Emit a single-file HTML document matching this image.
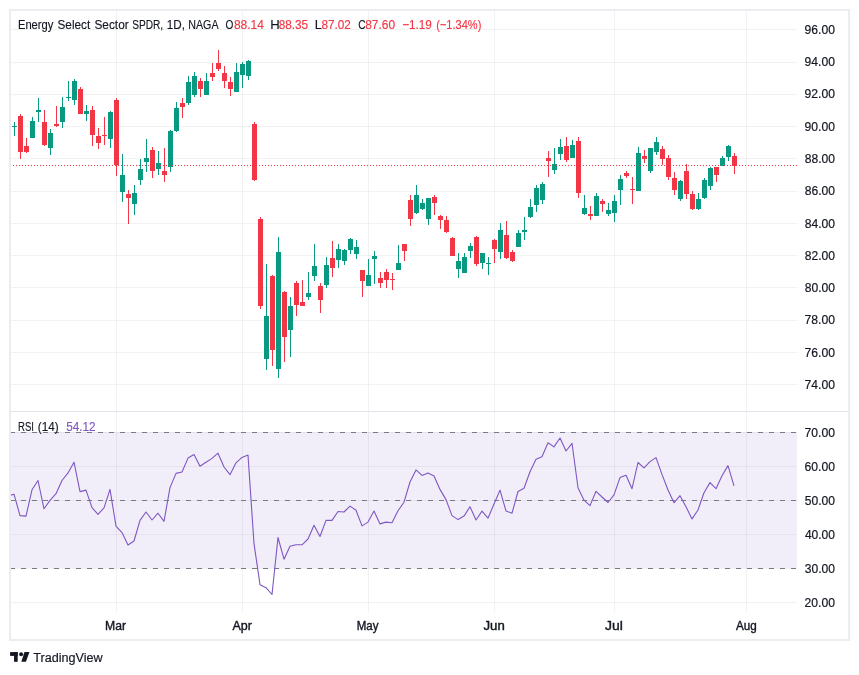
<!DOCTYPE html>
<html><head><meta charset="utf-8"><title>XLE chart</title>
<style>html,body{margin:0;padding:0;background:#fff;}body{width:859px;height:675px;position:relative;overflow:hidden;font-family:"Liberation Sans", sans-serif;}</style>
</head><body>
<svg width="859" height="675" viewBox="0 0 859 675" style="position:absolute;left:0;top:0">
<rect x="0" y="0" width="859" height="675" fill="#fff"/>
<defs><clipPath id="cp"><rect x="11" y="11" width="786" height="400"/></clipPath><clipPath id="cr"><rect x="11" y="412" width="786" height="200"/></clipPath></defs>
<rect x="116" y="11" width="1" height="601" fill="rgba(20,40,30,0.058)"/>
<rect x="242" y="11" width="1" height="601" fill="rgba(20,40,30,0.058)"/>
<rect x="368" y="11" width="1" height="601" fill="rgba(20,40,30,0.058)"/>
<rect x="494" y="11" width="1" height="601" fill="rgba(20,40,30,0.058)"/>
<rect x="614" y="11" width="1" height="601" fill="rgba(20,40,30,0.058)"/>
<rect x="746" y="11" width="1" height="601" fill="rgba(20,40,30,0.058)"/>
<rect x="11" y="29" width="786" height="1" fill="rgba(20,40,30,0.058)"/>
<rect x="11" y="62" width="786" height="1" fill="rgba(20,40,30,0.058)"/>
<rect x="11" y="94" width="786" height="1" fill="rgba(20,40,30,0.058)"/>
<rect x="11" y="126" width="786" height="1" fill="rgba(20,40,30,0.058)"/>
<rect x="11" y="158" width="786" height="1" fill="rgba(20,40,30,0.058)"/>
<rect x="11" y="191" width="786" height="1" fill="rgba(20,40,30,0.058)"/>
<rect x="11" y="223" width="786" height="1" fill="rgba(20,40,30,0.058)"/>
<rect x="11" y="255" width="786" height="1" fill="rgba(20,40,30,0.058)"/>
<rect x="11" y="287" width="786" height="1" fill="rgba(20,40,30,0.058)"/>
<rect x="11" y="320" width="786" height="1" fill="rgba(20,40,30,0.058)"/>
<rect x="11" y="352" width="786" height="1" fill="rgba(20,40,30,0.058)"/>
<rect x="11" y="384" width="786" height="1" fill="rgba(20,40,30,0.058)"/>
<rect x="11" y="432" width="786" height="1" fill="rgba(20,40,30,0.058)"/>
<rect x="11" y="466" width="786" height="1" fill="rgba(20,40,30,0.058)"/>
<rect x="11" y="500" width="786" height="1" fill="rgba(20,40,30,0.058)"/>
<rect x="11" y="534" width="786" height="1" fill="rgba(20,40,30,0.058)"/>
<rect x="11" y="568" width="786" height="1" fill="rgba(20,40,30,0.058)"/>
<rect x="11" y="602" width="786" height="1" fill="rgba(20,40,30,0.058)"/>
<rect x="11" y="432" width="786" height="136" fill="rgba(126,87,194,0.1)"/>
<line x1="10" y1="432.5" x2="797" y2="432.5" stroke="#787b86" stroke-width="1" stroke-dasharray="5 6"/>
<line x1="10" y1="500.5" x2="797" y2="500.5" stroke="#787b86" stroke-width="1" stroke-dasharray="5 6"/>
<line x1="10" y1="568.5" x2="797" y2="568.5" stroke="#787b86" stroke-width="1" stroke-dasharray="5 6"/>
<rect x="11" y="411" width="837" height="1" fill="#e3e5ec"/>
<g clip-path="url(#cp)" shape-rendering="crispEdges">
<rect x="14" y="122" width="1" height="14" fill="#089981"/>
<rect x="12" y="126" width="5" height="1" fill="#089981"/>
<rect x="20" y="114" width="1" height="45" fill="#f23645"/>
<rect x="18" y="116" width="5" height="36" fill="#f23645"/>
<rect x="26" y="138" width="1" height="15" fill="#f23645"/>
<rect x="24" y="146" width="5" height="6" fill="#f23645"/>
<rect x="32" y="117" width="1" height="21" fill="#089981"/>
<rect x="30" y="121" width="5" height="17" fill="#089981"/>
<rect x="38" y="98" width="1" height="24" fill="#089981"/>
<rect x="36" y="110" width="5" height="2" fill="#089981"/>
<rect x="44" y="110" width="1" height="36" fill="#f23645"/>
<rect x="42" y="122" width="5" height="23" fill="#f23645"/>
<rect x="50" y="129" width="1" height="26" fill="#089981"/>
<rect x="48" y="133" width="5" height="15" fill="#089981"/>
<rect x="56" y="106" width="1" height="21" fill="#f23645"/>
<rect x="54" y="124" width="5" height="2" fill="#f23645"/>
<rect x="62" y="97" width="1" height="31" fill="#089981"/>
<rect x="60" y="107" width="5" height="15" fill="#089981"/>
<rect x="68" y="81" width="1" height="20" fill="#089981"/>
<rect x="66" y="97" width="5" height="1" fill="#089981"/>
<rect x="74" y="79" width="1" height="26" fill="#089981"/>
<rect x="72" y="81" width="5" height="19" fill="#089981"/>
<rect x="80" y="87" width="1" height="27" fill="#f23645"/>
<rect x="78" y="89" width="5" height="25" fill="#f23645"/>
<rect x="86" y="105" width="1" height="16" fill="#089981"/>
<rect x="84" y="111" width="5" height="3" fill="#089981"/>
<rect x="92" y="106" width="1" height="40" fill="#f23645"/>
<rect x="90" y="110" width="5" height="25" fill="#f23645"/>
<rect x="98" y="128" width="1" height="21" fill="#f23645"/>
<rect x="96" y="136" width="5" height="7" fill="#f23645"/>
<rect x="104" y="117" width="1" height="28" fill="#f23645"/>
<rect x="102" y="135" width="5" height="1" fill="#f23645"/>
<rect x="110" y="111" width="1" height="37" fill="#089981"/>
<rect x="108" y="112" width="5" height="27" fill="#089981"/>
<rect x="116" y="98" width="1" height="78" fill="#f23645"/>
<rect x="114" y="100" width="5" height="65" fill="#f23645"/>
<rect x="122" y="154" width="1" height="48" fill="#089981"/>
<rect x="120" y="175" width="5" height="17" fill="#089981"/>
<rect x="128" y="190" width="1" height="34" fill="#f23645"/>
<rect x="126" y="194" width="5" height="4" fill="#f23645"/>
<rect x="134" y="185" width="1" height="30" fill="#089981"/>
<rect x="132" y="193" width="5" height="11" fill="#089981"/>
<rect x="140" y="159" width="1" height="26" fill="#089981"/>
<rect x="138" y="169" width="5" height="11" fill="#089981"/>
<rect x="146" y="139" width="1" height="33" fill="#089981"/>
<rect x="144" y="158" width="5" height="4" fill="#089981"/>
<rect x="152" y="147" width="1" height="31" fill="#f23645"/>
<rect x="150" y="150" width="5" height="21" fill="#f23645"/>
<rect x="158" y="151" width="1" height="24" fill="#089981"/>
<rect x="156" y="163" width="5" height="6" fill="#089981"/>
<rect x="164" y="148" width="1" height="34" fill="#f23645"/>
<rect x="162" y="171" width="5" height="4" fill="#f23645"/>
<rect x="170" y="130" width="1" height="42" fill="#089981"/>
<rect x="168" y="131" width="5" height="36" fill="#089981"/>
<rect x="176" y="102" width="1" height="30" fill="#089981"/>
<rect x="174" y="108" width="5" height="23" fill="#089981"/>
<rect x="182" y="98" width="1" height="20" fill="#f23645"/>
<rect x="180" y="103" width="5" height="4" fill="#f23645"/>
<rect x="188" y="76" width="1" height="29" fill="#089981"/>
<rect x="186" y="82" width="5" height="21" fill="#089981"/>
<rect x="194" y="72" width="1" height="25" fill="#089981"/>
<rect x="192" y="76" width="5" height="19" fill="#089981"/>
<rect x="200" y="78" width="1" height="19" fill="#f23645"/>
<rect x="198" y="81" width="5" height="8" fill="#f23645"/>
<rect x="206" y="73" width="1" height="22" fill="#089981"/>
<rect x="204" y="81" width="5" height="14" fill="#089981"/>
<rect x="212" y="63" width="1" height="18" fill="#f23645"/>
<rect x="210" y="73" width="5" height="4" fill="#f23645"/>
<rect x="218" y="50" width="1" height="21" fill="#f23645"/>
<rect x="216" y="63" width="5" height="6" fill="#f23645"/>
<rect x="224" y="66" width="1" height="22" fill="#f23645"/>
<rect x="222" y="73" width="5" height="8" fill="#f23645"/>
<rect x="230" y="77" width="1" height="19" fill="#f23645"/>
<rect x="228" y="82" width="5" height="7" fill="#f23645"/>
<rect x="236" y="63" width="1" height="29" fill="#089981"/>
<rect x="234" y="72" width="5" height="20" fill="#089981"/>
<rect x="242" y="62" width="1" height="26" fill="#089981"/>
<rect x="240" y="64" width="5" height="11" fill="#089981"/>
<rect x="248" y="60" width="1" height="20" fill="#089981"/>
<rect x="246" y="61" width="5" height="15" fill="#089981"/>
<rect x="254" y="122" width="1" height="59" fill="#f23645"/>
<rect x="252" y="124" width="5" height="56" fill="#f23645"/>
<rect x="260" y="217" width="1" height="92" fill="#f23645"/>
<rect x="258" y="219" width="5" height="87" fill="#f23645"/>
<rect x="266" y="264" width="1" height="106" fill="#089981"/>
<rect x="264" y="316" width="5" height="43" fill="#089981"/>
<rect x="272" y="275" width="1" height="91" fill="#f23645"/>
<rect x="270" y="276" width="5" height="74" fill="#f23645"/>
<rect x="278" y="237" width="1" height="141" fill="#089981"/>
<rect x="276" y="252" width="5" height="117" fill="#089981"/>
<rect x="284" y="291" width="1" height="71" fill="#f23645"/>
<rect x="282" y="292" width="5" height="45" fill="#f23645"/>
<rect x="290" y="297" width="1" height="60" fill="#089981"/>
<rect x="288" y="306" width="5" height="24" fill="#089981"/>
<rect x="296" y="281" width="1" height="35" fill="#f23645"/>
<rect x="294" y="283" width="5" height="22" fill="#f23645"/>
<rect x="302" y="280" width="1" height="26" fill="#f23645"/>
<rect x="300" y="302" width="5" height="4" fill="#f23645"/>
<rect x="308" y="272" width="1" height="28" fill="#089981"/>
<rect x="306" y="293" width="5" height="4" fill="#089981"/>
<rect x="314" y="244" width="1" height="37" fill="#089981"/>
<rect x="312" y="266" width="5" height="10" fill="#089981"/>
<rect x="320" y="283" width="1" height="30" fill="#f23645"/>
<rect x="318" y="286" width="5" height="14" fill="#f23645"/>
<rect x="326" y="257" width="1" height="31" fill="#089981"/>
<rect x="324" y="265" width="5" height="20" fill="#089981"/>
<rect x="332" y="241" width="1" height="36" fill="#f23645"/>
<rect x="330" y="258" width="5" height="10" fill="#f23645"/>
<rect x="338" y="244" width="1" height="24" fill="#089981"/>
<rect x="336" y="249" width="5" height="11" fill="#089981"/>
<rect x="344" y="249" width="1" height="16" fill="#089981"/>
<rect x="342" y="250" width="5" height="11" fill="#089981"/>
<rect x="350" y="238" width="1" height="16" fill="#089981"/>
<rect x="348" y="239" width="5" height="11" fill="#089981"/>
<rect x="356" y="240" width="1" height="19" fill="#089981"/>
<rect x="354" y="247" width="5" height="7" fill="#089981"/>
<rect x="362" y="270" width="1" height="27" fill="#f23645"/>
<rect x="360" y="270" width="5" height="11" fill="#f23645"/>
<rect x="368" y="259" width="1" height="27" fill="#089981"/>
<rect x="366" y="275" width="5" height="11" fill="#089981"/>
<rect x="374" y="251" width="1" height="33" fill="#089981"/>
<rect x="372" y="256" width="5" height="3" fill="#089981"/>
<rect x="380" y="272" width="1" height="16" fill="#f23645"/>
<rect x="378" y="278" width="5" height="5" fill="#f23645"/>
<rect x="386" y="269" width="1" height="19" fill="#f23645"/>
<rect x="384" y="272" width="5" height="8" fill="#f23645"/>
<rect x="392" y="273" width="1" height="17" fill="#f23645"/>
<rect x="390" y="279" width="5" height="1" fill="#f23645"/>
<rect x="398" y="245" width="1" height="25" fill="#089981"/>
<rect x="396" y="263" width="5" height="7" fill="#089981"/>
<rect x="404" y="244" width="1" height="17" fill="#f23645"/>
<rect x="402" y="244" width="5" height="7" fill="#f23645"/>
<rect x="410" y="195" width="1" height="31" fill="#f23645"/>
<rect x="408" y="200" width="5" height="19" fill="#f23645"/>
<rect x="416" y="185" width="1" height="29" fill="#089981"/>
<rect x="414" y="195" width="5" height="18" fill="#089981"/>
<rect x="422" y="199" width="1" height="11" fill="#089981"/>
<rect x="420" y="203" width="5" height="6" fill="#089981"/>
<rect x="428" y="198" width="1" height="27" fill="#089981"/>
<rect x="426" y="198" width="5" height="21" fill="#089981"/>
<rect x="434" y="195" width="1" height="20" fill="#f23645"/>
<rect x="432" y="197" width="5" height="6" fill="#f23645"/>
<rect x="440" y="215" width="1" height="14" fill="#f23645"/>
<rect x="438" y="216" width="5" height="4" fill="#f23645"/>
<rect x="446" y="216" width="1" height="17" fill="#f23645"/>
<rect x="444" y="220" width="5" height="12" fill="#f23645"/>
<rect x="452" y="237" width="1" height="19" fill="#f23645"/>
<rect x="450" y="238" width="5" height="18" fill="#f23645"/>
<rect x="458" y="253" width="1" height="25" fill="#089981"/>
<rect x="456" y="261" width="5" height="8" fill="#089981"/>
<rect x="464" y="253" width="1" height="20" fill="#089981"/>
<rect x="462" y="257" width="5" height="16" fill="#089981"/>
<rect x="470" y="243" width="1" height="15" fill="#089981"/>
<rect x="468" y="246" width="5" height="5" fill="#089981"/>
<rect x="476" y="236" width="1" height="30" fill="#f23645"/>
<rect x="474" y="237" width="5" height="27" fill="#f23645"/>
<rect x="482" y="253" width="1" height="16" fill="#089981"/>
<rect x="480" y="253" width="5" height="10" fill="#089981"/>
<rect x="488" y="257" width="1" height="18" fill="#089981"/>
<rect x="486" y="263" width="5" height="1" fill="#089981"/>
<rect x="494" y="239" width="1" height="24" fill="#f23645"/>
<rect x="492" y="240" width="5" height="9" fill="#f23645"/>
<rect x="500" y="223" width="1" height="36" fill="#089981"/>
<rect x="498" y="230" width="5" height="22" fill="#089981"/>
<rect x="506" y="221" width="1" height="38" fill="#f23645"/>
<rect x="504" y="235" width="5" height="23" fill="#f23645"/>
<rect x="512" y="250" width="1" height="12" fill="#f23645"/>
<rect x="510" y="252" width="5" height="9" fill="#f23645"/>
<rect x="518" y="230" width="1" height="17" fill="#089981"/>
<rect x="516" y="233" width="5" height="14" fill="#089981"/>
<rect x="524" y="217" width="1" height="23" fill="#089981"/>
<rect x="522" y="230" width="5" height="2" fill="#089981"/>
<rect x="530" y="199" width="1" height="19" fill="#089981"/>
<rect x="528" y="207" width="5" height="10" fill="#089981"/>
<rect x="536" y="185" width="1" height="27" fill="#089981"/>
<rect x="534" y="188" width="5" height="17" fill="#089981"/>
<rect x="542" y="182" width="1" height="22" fill="#089981"/>
<rect x="540" y="184" width="5" height="16" fill="#089981"/>
<rect x="548" y="151" width="1" height="26" fill="#f23645"/>
<rect x="546" y="158" width="5" height="3" fill="#f23645"/>
<rect x="554" y="148" width="1" height="26" fill="#089981"/>
<rect x="552" y="164" width="5" height="6" fill="#089981"/>
<rect x="560" y="139" width="1" height="21" fill="#089981"/>
<rect x="558" y="147" width="5" height="7" fill="#089981"/>
<rect x="566" y="137" width="1" height="25" fill="#f23645"/>
<rect x="564" y="146" width="5" height="14" fill="#f23645"/>
<rect x="572" y="140" width="1" height="18" fill="#089981"/>
<rect x="570" y="145" width="5" height="13" fill="#089981"/>
<rect x="578" y="137" width="1" height="61" fill="#f23645"/>
<rect x="576" y="141" width="5" height="52" fill="#f23645"/>
<rect x="584" y="195" width="1" height="20" fill="#089981"/>
<rect x="582" y="208" width="5" height="6" fill="#089981"/>
<rect x="590" y="206" width="1" height="14" fill="#f23645"/>
<rect x="588" y="214" width="5" height="2" fill="#f23645"/>
<rect x="596" y="193" width="1" height="23" fill="#089981"/>
<rect x="594" y="196" width="5" height="20" fill="#089981"/>
<rect x="602" y="199" width="1" height="13" fill="#f23645"/>
<rect x="600" y="201" width="5" height="3" fill="#f23645"/>
<rect x="608" y="203" width="1" height="13" fill="#089981"/>
<rect x="606" y="210" width="5" height="4" fill="#089981"/>
<rect x="614" y="195" width="1" height="27" fill="#089981"/>
<rect x="612" y="201" width="5" height="12" fill="#089981"/>
<rect x="620" y="175" width="1" height="30" fill="#089981"/>
<rect x="618" y="179" width="5" height="11" fill="#089981"/>
<rect x="626" y="171" width="1" height="7" fill="#f23645"/>
<rect x="624" y="173" width="5" height="3" fill="#f23645"/>
<rect x="632" y="177" width="1" height="27" fill="#f23645"/>
<rect x="630" y="189" width="5" height="1" fill="#f23645"/>
<rect x="638" y="147" width="1" height="44" fill="#089981"/>
<rect x="636" y="153" width="5" height="38" fill="#089981"/>
<rect x="644" y="150" width="1" height="13" fill="#f23645"/>
<rect x="642" y="156" width="5" height="3" fill="#f23645"/>
<rect x="650" y="148" width="1" height="25" fill="#089981"/>
<rect x="648" y="148" width="5" height="23" fill="#089981"/>
<rect x="656" y="137" width="1" height="18" fill="#089981"/>
<rect x="654" y="142" width="5" height="10" fill="#089981"/>
<rect x="662" y="146" width="1" height="19" fill="#f23645"/>
<rect x="660" y="149" width="5" height="10" fill="#f23645"/>
<rect x="668" y="155" width="1" height="25" fill="#f23645"/>
<rect x="666" y="158" width="5" height="19" fill="#f23645"/>
<rect x="674" y="172" width="1" height="23" fill="#f23645"/>
<rect x="672" y="178" width="5" height="12" fill="#f23645"/>
<rect x="680" y="180" width="1" height="21" fill="#089981"/>
<rect x="678" y="181" width="5" height="18" fill="#089981"/>
<rect x="686" y="164" width="1" height="35" fill="#f23645"/>
<rect x="684" y="171" width="5" height="23" fill="#f23645"/>
<rect x="692" y="191" width="1" height="19" fill="#f23645"/>
<rect x="690" y="194" width="5" height="15" fill="#f23645"/>
<rect x="698" y="193" width="1" height="17" fill="#089981"/>
<rect x="696" y="199" width="5" height="10" fill="#089981"/>
<rect x="704" y="178" width="1" height="21" fill="#089981"/>
<rect x="702" y="180" width="5" height="18" fill="#089981"/>
<rect x="710" y="167" width="1" height="23" fill="#089981"/>
<rect x="708" y="168" width="5" height="18" fill="#089981"/>
<rect x="716" y="167" width="1" height="15" fill="#f23645"/>
<rect x="714" y="167" width="5" height="8" fill="#f23645"/>
<rect x="722" y="156" width="1" height="10" fill="#089981"/>
<rect x="720" y="158" width="5" height="8" fill="#089981"/>
<rect x="728" y="145" width="1" height="16" fill="#089981"/>
<rect x="726" y="146" width="5" height="11" fill="#089981"/>
<rect x="734" y="153" width="1" height="21" fill="#f23645"/>
<rect x="732" y="156" width="5" height="10" fill="#f23645"/>
</g>
<line x1="10" y1="165.5" x2="797" y2="165.5" stroke="#f23645" stroke-width="1" stroke-dasharray="1 2" shape-rendering="crispEdges"/>
<g clip-path="url(#cr)"><polyline points="8,496.0 14,494.2 20,515.6 26,516.1 32,489.8 38,480.5 44,508.8 50,500.4 56,493.7 62,480.5 68,472.9 74,462.2 80,491.6 86,490.1 92,507.6 98,514.3 104,507.9 110,489.4 116,526.2 122,532.6 128,545.0 134,541.0 140,520.4 146,512.0 152,520.0 158,513.2 164,521.4 170,487.6 176,473.4 182,472.0 188,458.1 194,454.6 200,466.3 206,462.2 212,458.4 218,453.2 224,467.0 230,474.7 236,462.8 242,457.4 248,455.1 254,543.7 260,584.7 266,587.7 272,594.5 278,537.5 284,559.2 290,546.2 296,544.7 302,544.8 308,539.0 314,525.3 320,536.5 326,520.4 332,520.4 338,511.5 344,512.0 350,506.1 356,510.2 362,525.9 368,522.1 374,511.1 380,523.9 386,522.1 392,522.7 398,510.8 404,502.2 410,482.0 416,469.9 422,475.4 428,472.9 434,476.1 440,489.4 446,499.6 452,515.6 458,519.6 464,516.1 470,506.7 476,520.0 482,511.1 488,518.2 494,504.0 500,490.1 506,511.0 512,513.2 518,491.5 524,488.3 530,471.8 536,459.3 542,456.7 548,442.8 554,446.9 560,438.0 566,451.0 572,443.3 578,487.8 584,500.2 590,505.6 596,491.3 602,497.0 608,502.5 614,494.9 620,477.6 626,475.3 632,488.7 638,462.5 644,467.9 650,461.6 656,457.6 662,474.4 668,490.0 674,502.8 680,495.7 686,506.7 692,518.9 698,510.0 704,492.7 710,482.6 716,488.7 722,475.7 728,465.6 734,485.8" fill="none" stroke="#7e57c2" stroke-width="1.1" stroke-linejoin="round"/></g>
<rect x="10" y="10" width="839" height="630" fill="none" stroke="#ebedf1" stroke-width="2"/>
</svg>
<svg width="859" height="675" viewBox="0 0 859 675" style="position:absolute;left:0;top:0;will-change:transform">
<text x="804.62" y="33.9" font-family='"Liberation Sans", sans-serif' font-size="12.5" font-weight="normal" fill="#131722" stroke="#131722" stroke-width="0.2" textLength="30.33" lengthAdjust="spacingAndGlyphs">96.00</text>
<text x="804.62" y="66.17" font-family='"Liberation Sans", sans-serif' font-size="12.5" font-weight="normal" fill="#131722" stroke="#131722" stroke-width="0.2" textLength="30.33" lengthAdjust="spacingAndGlyphs">94.00</text>
<text x="804.62" y="98.45" font-family='"Liberation Sans", sans-serif' font-size="12.5" font-weight="normal" fill="#131722" stroke="#131722" stroke-width="0.2" textLength="30.33" lengthAdjust="spacingAndGlyphs">92.00</text>
<text x="804.62" y="130.72" font-family='"Liberation Sans", sans-serif' font-size="12.5" font-weight="normal" fill="#131722" stroke="#131722" stroke-width="0.2" textLength="30.33" lengthAdjust="spacingAndGlyphs">90.00</text>
<text x="804.69" y="162.99" font-family='"Liberation Sans", sans-serif' font-size="12.5" font-weight="normal" fill="#131722" stroke="#131722" stroke-width="0.2" textLength="30.27" lengthAdjust="spacingAndGlyphs">88.00</text>
<text x="804.69" y="195.26" font-family='"Liberation Sans", sans-serif' font-size="12.5" font-weight="normal" fill="#131722" stroke="#131722" stroke-width="0.2" textLength="30.27" lengthAdjust="spacingAndGlyphs">86.00</text>
<text x="804.69" y="227.54" font-family='"Liberation Sans", sans-serif' font-size="12.5" font-weight="normal" fill="#131722" stroke="#131722" stroke-width="0.2" textLength="30.27" lengthAdjust="spacingAndGlyphs">84.00</text>
<text x="804.69" y="259.81" font-family='"Liberation Sans", sans-serif' font-size="12.5" font-weight="normal" fill="#131722" stroke="#131722" stroke-width="0.2" textLength="30.27" lengthAdjust="spacingAndGlyphs">82.00</text>
<text x="804.69" y="292.08" font-family='"Liberation Sans", sans-serif' font-size="12.5" font-weight="normal" fill="#131722" stroke="#131722" stroke-width="0.2" textLength="30.27" lengthAdjust="spacingAndGlyphs">80.00</text>
<text x="804.59" y="324.35" font-family='"Liberation Sans", sans-serif' font-size="12.5" font-weight="normal" fill="#131722" stroke="#131722" stroke-width="0.2" textLength="30.36" lengthAdjust="spacingAndGlyphs">78.00</text>
<text x="804.59" y="356.63" font-family='"Liberation Sans", sans-serif' font-size="12.5" font-weight="normal" fill="#131722" stroke="#131722" stroke-width="0.2" textLength="30.36" lengthAdjust="spacingAndGlyphs">76.00</text>
<text x="804.59" y="388.9" font-family='"Liberation Sans", sans-serif' font-size="12.5" font-weight="normal" fill="#131722" stroke="#131722" stroke-width="0.2" textLength="30.36" lengthAdjust="spacingAndGlyphs">74.00</text>
<text x="804.59" y="436.6" font-family='"Liberation Sans", sans-serif' font-size="12.5" font-weight="normal" fill="#131722" stroke="#131722" stroke-width="0.2" textLength="30.36" lengthAdjust="spacingAndGlyphs">70.00</text>
<text x="804.59" y="470.6" font-family='"Liberation Sans", sans-serif' font-size="12.5" font-weight="normal" fill="#131722" stroke="#131722" stroke-width="0.2" textLength="30.36" lengthAdjust="spacingAndGlyphs">60.00</text>
<text x="804.72" y="504.6" font-family='"Liberation Sans", sans-serif' font-size="12.5" font-weight="normal" fill="#131722" stroke="#131722" stroke-width="0.2" textLength="30.24" lengthAdjust="spacingAndGlyphs">50.00</text>
<text x="804.93" y="538.6" font-family='"Liberation Sans", sans-serif' font-size="12.5" font-weight="normal" fill="#131722" stroke="#131722" stroke-width="0.2" textLength="30.02" lengthAdjust="spacingAndGlyphs">40.00</text>
<text x="804.75" y="572.6" font-family='"Liberation Sans", sans-serif' font-size="12.5" font-weight="normal" fill="#131722" stroke="#131722" stroke-width="0.2" textLength="30.21" lengthAdjust="spacingAndGlyphs">30.00</text>
<text x="804.59" y="606.6" font-family='"Liberation Sans", sans-serif' font-size="12.5" font-weight="normal" fill="#131722" stroke="#131722" stroke-width="0.2" textLength="30.36" lengthAdjust="spacingAndGlyphs">20.00</text>
<text x="105.09" y="629.8" font-family='"Liberation Sans", sans-serif' font-size="12.5" font-weight="normal" fill="#131722" stroke="#131722" stroke-width="0.4" textLength="20.98" lengthAdjust="spacingAndGlyphs">Mar</text>
<text x="232.47" y="629.8" font-family='"Liberation Sans", sans-serif' font-size="12.5" font-weight="normal" fill="#131722" stroke="#131722" stroke-width="0.4" textLength="19.43" lengthAdjust="spacingAndGlyphs">Apr</text>
<text x="356.75" y="629.8" font-family='"Liberation Sans", sans-serif' font-size="12.5" font-weight="normal" fill="#131722" stroke="#131722" stroke-width="0.4" textLength="21.77" lengthAdjust="spacingAndGlyphs">May</text>
<text x="483.50" y="629.8" font-family='"Liberation Sans", sans-serif' font-size="12.5" font-weight="normal" fill="#131722" stroke="#131722" stroke-width="0.4" textLength="21.25" lengthAdjust="spacingAndGlyphs">Jun</text>
<text x="604.99" y="629.8" font-family='"Liberation Sans", sans-serif' font-size="12.5" font-weight="normal" fill="#131722" stroke="#131722" stroke-width="0.4" textLength="17.86" lengthAdjust="spacingAndGlyphs">Jul</text>
<text x="736.07" y="629.8" font-family='"Liberation Sans", sans-serif' font-size="12.5" font-weight="normal" fill="#131722" stroke="#131722" stroke-width="0.4" textLength="20.78" lengthAdjust="spacingAndGlyphs">Aug</text>
<text x="17.93" y="28.8" font-family='"Liberation Sans", sans-serif' font-size="12.5" font-weight="normal" fill="#131722" stroke="#131722" stroke-width="0.15" textLength="35.46" lengthAdjust="spacingAndGlyphs">Energy</text>
<text x="57.52" y="28.8" font-family='"Liberation Sans", sans-serif' font-size="12.5" font-weight="normal" fill="#131722" stroke="#131722" stroke-width="0.15" textLength="32.71" lengthAdjust="spacingAndGlyphs">Select</text>
<text x="94.42" y="28.8" font-family='"Liberation Sans", sans-serif' font-size="12.5" font-weight="normal" fill="#131722" stroke="#131722" stroke-width="0.15" textLength="34.31" lengthAdjust="spacingAndGlyphs">Sector</text>
<text x="132.30" y="28.8" font-family='"Liberation Sans", sans-serif' font-size="12.5" font-weight="normal" fill="#131722" stroke="#131722" stroke-width="0.15" textLength="30.88" lengthAdjust="spacingAndGlyphs">SPDR,</text>
<text x="166.78" y="28.8" font-family='"Liberation Sans", sans-serif' font-size="12.5" font-weight="normal" fill="#131722" stroke="#131722" stroke-width="0.15" textLength="18.14" lengthAdjust="spacingAndGlyphs">1D,</text>
<text x="188.27" y="28.8" font-family='"Liberation Sans", sans-serif' font-size="12.5" font-weight="normal" fill="#131722" stroke="#131722" stroke-width="0.15" textLength="30.30" lengthAdjust="spacingAndGlyphs">NAGA</text>
<text x="225.57" y="28.8" font-family='"Liberation Sans", sans-serif' font-size="12.5" font-weight="normal" fill="#131722" stroke="#131722" stroke-width="0.15" textLength="7.86" lengthAdjust="spacingAndGlyphs">O</text>
<text x="233.94" y="28.8" font-family='"Liberation Sans", sans-serif' font-size="12.5" font-weight="normal" fill="#f23645" stroke="#f23645" stroke-width="0.15" textLength="30.04" lengthAdjust="spacingAndGlyphs">88.14</text>
<text x="270.17" y="28.8" font-family='"Liberation Sans", sans-serif' font-size="12.5" font-weight="normal" fill="#131722" stroke="#131722" stroke-width="0.15" textLength="9.46" lengthAdjust="spacingAndGlyphs">H</text>
<text x="278.65" y="28.8" font-family='"Liberation Sans", sans-serif' font-size="12.5" font-weight="normal" fill="#f23645" stroke="#f23645" stroke-width="0.15" textLength="29.47" lengthAdjust="spacingAndGlyphs">88.35</text>
<text x="314.80" y="28.8" font-family='"Liberation Sans", sans-serif' font-size="12.5" font-weight="normal" fill="#131722" stroke="#131722" stroke-width="0.15" textLength="7.08" lengthAdjust="spacingAndGlyphs">L</text>
<text x="321.55" y="28.8" font-family='"Liberation Sans", sans-serif' font-size="12.5" font-weight="normal" fill="#f23645" stroke="#f23645" stroke-width="0.15" textLength="29.28" lengthAdjust="spacingAndGlyphs">87.02</text>
<text x="358.24" y="28.8" font-family='"Liberation Sans", sans-serif' font-size="12.5" font-weight="normal" fill="#131722" stroke="#131722" stroke-width="0.15" textLength="7.39" lengthAdjust="spacingAndGlyphs">C</text>
<text x="365.24" y="28.8" font-family='"Liberation Sans", sans-serif' font-size="12.5" font-weight="normal" fill="#f23645" stroke="#f23645" stroke-width="0.15" textLength="29.85" lengthAdjust="spacingAndGlyphs">87.60</text>
<text x="402.16" y="28.8" font-family='"Liberation Sans", sans-serif' font-size="12.5" font-weight="normal" fill="#f23645" stroke="#f23645" stroke-width="0.15" textLength="29.62" lengthAdjust="spacingAndGlyphs">−1.19</text>
<text x="436.16" y="28.8" font-family='"Liberation Sans", sans-serif' font-size="12.5" font-weight="normal" fill="#f23645" stroke="#f23645" stroke-width="0.15" textLength="45.26" lengthAdjust="spacingAndGlyphs">(−1.34%)</text>
<text x="18.06" y="430.5" font-family='"Liberation Sans", sans-serif' font-size="12.5" font-weight="normal" fill="#131722" stroke="#131722" stroke-width="0.15" textLength="15.97" lengthAdjust="spacingAndGlyphs">RSI</text>
<text x="37.82" y="430.5" font-family='"Liberation Sans", sans-serif' font-size="12.5" font-weight="normal" fill="#131722" stroke="#131722" stroke-width="0.15" textLength="20.85" lengthAdjust="spacingAndGlyphs">(14)</text>
<text x="66.18" y="430.5" font-family='"Liberation Sans", sans-serif' font-size="12.5" font-weight="normal" fill="#7e57c2" stroke="#7e57c2" stroke-width="0.15" textLength="29.46" lengthAdjust="spacingAndGlyphs">54.12</text>
<g fill="#131722"><rect x="10.1" y="652.1" width="7.6" height="3.8"/><rect x="14.05" y="652.1" width="3.65" height="9.7"/><circle cx="21.1" cy="654.2" r="2.0"/><polygon points="24.5,652.1 29.5,652.1 25.9,661.8 21.3,661.8"/></g>
<text x="33.22" y="661.8" font-family='"Liberation Sans", sans-serif' font-size="13.7" font-weight="normal" fill="#131722" stroke="#131722" stroke-width="0.2" textLength="69.46" lengthAdjust="spacingAndGlyphs">TradingView</text>
</svg>
</body></html>
